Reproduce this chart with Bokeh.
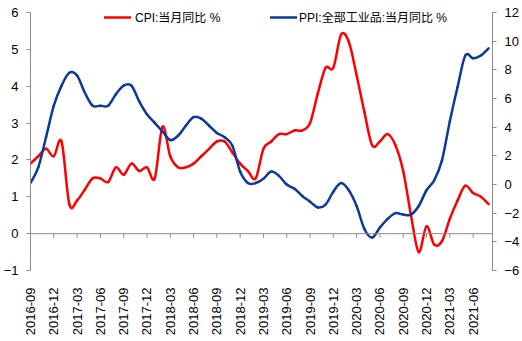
import numpy as np
from bokeh.plotting import figure
from bokeh.models import (Range1d, LinearAxis, FixedTicker, Span, Legend, LegendItem)
from bokeh.embed import file_html
from bokeh.resources import INLINE

# ---------------- data ----------------
months = ["2016-09", "2016-10", "2016-11", "2016-12",
          "2017-01", "2017-02", "2017-03", "2017-04", "2017-05", "2017-06",
          "2017-07", "2017-08", "2017-09", "2017-10", "2017-11", "2017-12",
          "2018-01", "2018-02", "2018-03", "2018-04", "2018-05", "2018-06",
          "2018-07", "2018-08", "2018-09", "2018-10", "2018-11", "2018-12",
          "2019-01", "2019-02", "2019-03", "2019-04", "2019-05", "2019-06",
          "2019-07", "2019-08", "2019-09", "2019-10", "2019-11", "2019-12",
          "2020-01", "2020-02", "2020-03", "2020-04", "2020-05", "2020-06",
          "2020-07", "2020-08", "2020-09", "2020-10", "2020-11", "2020-12",
          "2021-01", "2021-02", "2021-03", "2021-04", "2021-05", "2021-06",
          "2021-07", "2021-08"]

cpi = [1.9, 2.1, 2.3, 2.1,
       2.5, 0.8, 0.9, 1.2, 1.5, 1.5, 1.4, 1.8, 1.6, 1.9, 1.7, 1.8,
       1.5, 2.9, 2.1, 1.8, 1.8, 1.9, 2.1, 2.3, 2.5, 2.5, 2.2, 1.9,
       1.7, 1.5, 2.3, 2.5, 2.7, 2.7, 2.8, 2.8, 3.0, 3.8, 4.5, 4.5,
       5.4, 5.2, 4.3, 3.3, 2.4, 2.5, 2.7, 2.4, 1.7, 0.5, -0.5, 0.2,
       -0.3, -0.2, 0.4, 0.9, 1.3, 1.1, 1.0, 0.8]

ppi = [0.1, 1.2, 3.3, 5.5,
       6.9, 7.8, 7.6, 6.4, 5.5, 5.5, 5.5, 6.3, 6.9, 6.9, 5.8, 4.9,
       4.3, 3.7, 3.1, 3.4, 4.1, 4.7, 4.6, 4.1, 3.6, 3.3, 2.7, 0.9,
       0.1, 0.1, 0.4, 0.9, 0.6, 0.0, -0.3, -0.8, -1.2, -1.6, -1.4, -0.5,
       0.1, -0.4, -1.5, -3.1, -3.7, -3.0, -2.4, -2.0, -2.1, -2.1, -1.5, -0.4,
       0.3, 1.7, 4.4, 6.8, 9.0, 8.8, 9.0, 9.5]

tick_labels = months[::3]
tick_pos = list(range(0, len(months), 3))

cpi_name = "CPI:当月同比 %"
ppi_name = "PPI:全部工业品:当月同比 %"

RED = "#FF0000"
BLUE = "#0B3A9A"
GRAY = "#8C8C8C"
FONT = "Liberation Sans, Noto Sans CJK SC"

# ---------------- smoothed segments (Bezier control points from data) ----------------
x = np.arange(len(months), dtype=float)


def bez(y):
    y = np.asarray(y, float)
    xp = np.concatenate([[x[0]], x, [x[-1]]])
    yp = np.concatenate([[y[0]], y, [y[-1]]])
    return dict(
        x0=xp[1:-2], y0=yp[1:-2], x1=xp[2:-1], y1=yp[2:-1],
        cx0=xp[1:-2] + (xp[2:-1] - xp[0:-3]) / 6.0,
        cy0=yp[1:-2] + (yp[2:-1] - yp[0:-3]) / 6.0,
        cx1=xp[2:-1] - (xp[3:] - xp[1:-2]) / 6.0,
        cy1=yp[2:-1] - (yp[3:] - yp[1:-2]) / 6.0,
    )


# ---------------- figure ----------------
p = figure(width=522, height=341, output_backend="svg", toolbar_location=None,
           x_range=Range1d(0, 59.5), y_range=Range1d(-1, 6),
           min_border_left=25, min_border_right=29, min_border_top=12,
           min_border_bottom=71, background_fill_color="white",
           border_fill_color="white")
p.outline_line_color = None
p.xgrid.visible = False
p.ygrid.visible = False
p.extra_y_ranges = {"right": Range1d(-6, 12)}

# bottom axis: labels only
xa = p.xaxis[0]
xa.ticker = FixedTicker(ticks=tick_pos)
xa.major_label_overrides = {t: l for t, l in zip(tick_pos, tick_labels)}
xa.major_label_orientation = np.pi / 2
xa.axis_line_color = None
xa.major_tick_line_color = None
xa.minor_tick_line_color = None
xa.major_label_standoff = 11
xa.major_label_text_font = FONT
xa.major_label_text_font_size = "13px"
xa.major_label_text_color = "black"

# left axis
ya = p.yaxis[0]
ya.ticker = FixedTicker(ticks=list(range(-1, 7)))
ya.axis_line_color = GRAY
ya.major_tick_line_color = GRAY
ya.major_tick_in = 0
ya.major_tick_out = 4
ya.minor_tick_line_color = None
ya.major_label_standoff = 8
ya.major_label_text_font = FONT
ya.major_label_text_font_size = "13px"
ya.major_label_text_color = "black"

# right axis
ra = LinearAxis(y_range_name="right", ticker=FixedTicker(ticks=list(range(-6, 13, 2))))
ra.axis_line_color = GRAY
ra.major_tick_line_color = GRAY
ra.major_tick_in = 0
ra.major_tick_out = 4
ra.minor_tick_line_color = None
ra.major_label_standoff = 8
ra.major_label_text_font = FONT
ra.major_label_text_font_size = "13px"
ra.major_label_text_color = "black"
p.add_layout(ra, "right")

# zero line with category tick marks
p.add_layout(Span(location=0, dimension="width", line_color=GRAY, line_width=1))
p.segment(x0=tick_pos, y0=[0] * len(tick_pos), x1=tick_pos, y1=[-0.11] * len(tick_pos),
          line_color=GRAY, line_width=1)

# series
r_cpi = p.bezier(line_color=RED, line_width=2.5, line_cap="round", **bez(cpi))
r_ppi = p.bezier(line_color=BLUE, line_width=2.5, line_cap="round", y_range_name="right", **bez(ppi))


def mk_legend(name, r, loc, standoff):
    lg = Legend(items=[LegendItem(label=name, renderers=[r], index=0)],
                location=loc, orientation="horizontal",
                padding=0, margin=0, spacing=0,
                glyph_width=27, glyph_height=14, label_height=14,
                label_standoff=standoff,
                label_text_font=FONT, label_text_font_size="12px",
                label_text_color="black", label_text_baseline="middle",
                border_line_color=None, background_fill_alpha=0)
    p.add_layout(lg)


mk_legend(cpi_name, r_cpi, (74, 245), 4)
mk_legend(ppi_name, r_ppi, (240, 245), 2)

open("out.html", "w").write(file_html(p, INLINE))
